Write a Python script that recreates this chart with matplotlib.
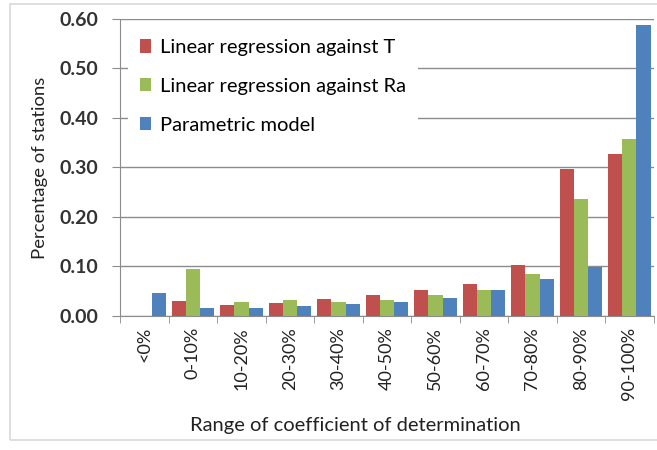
import numpy as np
import matplotlib.pyplot as plt
from matplotlib.patches import Rectangle

categorias = ["<0%", "0-10%", "10-20%", "20-30%", "30-40%", "40-50%",
              "50-60%", "60-70%", "70-80%", "80-90%", "90-100%"]
reg_T = [0.0, 0.030, 0.022, 0.027, 0.034, 0.042, 0.052, 0.065, 0.102, 0.297, 0.327]
reg_Ra = [0.0, 0.095, 0.028, 0.033, 0.028, 0.033, 0.043, 0.052, 0.085, 0.236, 0.358]
param = [0.047, 0.015, 0.016, 0.019, 0.025, 0.028, 0.036, 0.052, 0.075, 0.099, 0.587]
nombres = ["Linear regression against T", "Linear regression against Ra", "Parametric model"]
colores = ["#C0504D", "#9BBB59", "#4F81BD"]

plt.rcParams['font.family'] = ['Lato', 'DejaVu Sans']

fig = plt.figure(figsize=(6.57, 4.5), dpi=100)
# marco del area del grafico
fig.patches.append(Rectangle((0.015, 0.022), 1.2, 0.97, transform=fig.transFigure,
                             fill=False, edgecolor="#D9D9D9", linewidth=1.2))
ax = fig.add_axes([0.183, 0.298, 0.812, 0.66])

x = np.arange(len(categorias))
ancho = 0.29
for i, (serie, nombre, color) in enumerate(zip([reg_T, reg_Ra, param], nombres, colores)):
    ax.bar(x + (i - 1) * ancho, serie, ancho, color=color, label=nombre, zorder=3)

ax.set_xlim(-0.5, len(categorias) - 0.5)
ax.set_ylim(0, 0.6)
ax.set_yticks(np.arange(0, 0.61, 0.1))
ax.set_yticklabels([f"{v:.2f}" for v in np.arange(0, 0.61, 0.1)], fontsize=14,
                   fontweight='bold', color="#333333")
ax.grid(axis='y', color="#8C8C8C", linewidth=1, zorder=0)

ax.set_xticks(x)
ax.set_xticklabels(categorias, rotation=90, fontsize=13, color="#222222")
ax.set_xticks(np.arange(-0.5, len(categorias), 1), minor=True)
ax.tick_params(axis='x', which='major', length=0, pad=8)
ax.tick_params(axis='x', which='minor', length=5, color="#8C8C8C")
ax.tick_params(axis='y', length=6, color="#8C8C8C", pad=10)

for lado in ['top', 'right']:
    ax.spines[lado].set_visible(False)
for lado in ['left', 'bottom']:
    ax.spines[lado].set_color("#8C8C8C")

ax.set_ylabel("Percentage of stations", fontsize=13.3, color="#222222", labelpad=8)
ax.set_xlabel("Range of coefficient of determination", fontsize=14.5, color="#222222", labelpad=14)
ax.xaxis.set_label_coords(0.44, -0.34)

# la leyenda tapa las lineas de la cuadricula como en Excel
leyenda = ax.legend(loc='upper left', bbox_to_anchor=(0.0, 1.0), frameon=True, fontsize=14.5,
                    handlelength=0.55, handleheight=0.65, handletextpad=0.4, labelspacing=1.08,
                    borderaxespad=0.4, borderpad=0.6, fancybox=False)
leyenda.get_frame().set_facecolor("white")
leyenda.get_frame().set_edgecolor("none")
leyenda.get_frame().set_alpha(1)

fig.savefig("out.png", dpi=100)
